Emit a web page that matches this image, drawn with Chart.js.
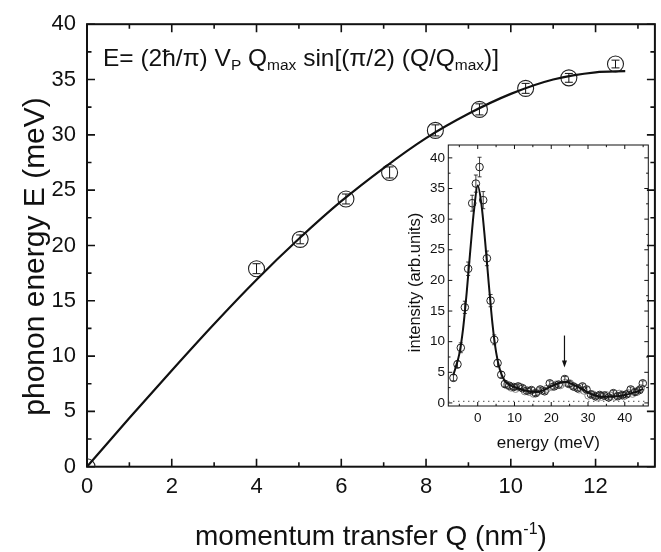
<!DOCTYPE html>
<html><head><meta charset="utf-8">
<script src="https://cdn.jsdelivr.net/npm/chart.js@4.4.0/dist/chart.umd.min.js"></script>
<style>
html,body{margin:0;padding:0;background:#fff;overflow:hidden;width:661px;height:552px;}
#wrap{position:relative;width:661px;height:552px;overflow:hidden;}
#main{position:absolute;left:0;top:0;}
#inset{position:absolute;left:380px;top:130px;}
</style></head><body>
<div id="wrap">
<canvas id="main" width="664" height="552"></canvas>
<canvas id="inset" width="281" height="330"></canvas>
</div>
<script>
// ---------- main chart data ----------
const Q_POINTS = [0, 4.0, 5.03, 6.11, 7.14, 8.22, 9.26, 10.35, 11.37, 12.47];
const E_POINTS = [0, 17.9, 20.55, 24.2, 26.6, 30.4, 32.3, 34.2, 35.15, 36.4];
const E_ERRORS = [0, 0.45, 0.4, 0.45, 0.5, 0.5, 0.5, 0.45, 0.4, 0.35];
const Q_FIT = [0, 1, 2, 3, 4, 5, 6, 7, 8, 9, 10, 11, 12, 12.7];
const E_FIT = [0, 4.4, 8.7, 12.9, 16.9, 20.6, 24.0, 27.0, 29.7, 31.9, 33.7, 35.0, 35.65, 35.75];
const Q_TICKS = [0, 2, 4, 6, 8, 10, 12];
const E_TICKS = [0, 5, 10, 15, 20, 25, 30, 35, 40];

// ---------- inset data ----------
const IN_E = [-6.6,-5.5,-4.6,-3.5,-2.6,-1.5,-0.5,0.5,1.5,2.5,3.5,4.5,5.4,6.4,7.4,8.6,9.8,11.0,12.2,13.4,14.6,15.8,17.0,18.2,19.6,20.8,22.0,23.7,24.8,26.0,27.2,28.5,29.6,30.8,32.0,33.2,34.4,35.6,36.9,38.1,39.3,40.5,41.6,42.8,44.0,44.9];
const IN_I = [4.1,6.3,9.0,15.6,21.9,32.6,35.8,38.5,33.1,23.6,16.7,10.3,6.5,4.6,3.1,2.8,2.6,2.7,2.4,2.0,2.1,1.6,2.2,1.9,3.2,2.7,3.0,3.9,3.1,2.7,2.4,2.7,2.2,1.4,1.1,1.3,1.2,0.9,1.6,1.1,1.3,1.4,2.2,1.8,2.1,3.2];
const IN_ERR = [0.5,0.6,0.8,1.0,1.1,1.3,1.4,1.6,1.4,1.2,1.0,0.8,0.6,0.5,0.5,0.4,0.4,0.4,0.4,0.4,0.4,0.4,0.4,0.4,0.4,0.4,0.4,0.4,0.4,0.4,0.4,0.4,0.4,0.4,0.4,0.4,0.4,0.4,0.4,0.4,0.4,0.4,0.4,0.4,0.4,0.4];
const IN_E2 = [7.9,9.1,10.3,11.6,12.8,14.0,15.2,16.4,17.6,18.8,20.1,21.3,22.5,23.9,25.1,26.3,27.6,28.9,30.1,31.3,32.5,33.7,34.9,36.1,37.3,38.5,39.7,40.9,42.1,43.3,44.4];
const IN_I2 = [2.9,2.5,2.3,2.6,1.9,1.8,1.5,1.9,2.0,2.3,2.6,3.0,2.9,3.3,3.2,2.6,2.2,2.0,1.2,1.4,0.9,1.0,1.3,1.2,1.0,1.5,1.1,1.6,1.5,1.8,2.4];
const FIT_E = [-6.6,-6,-5,-4,-3,-2,-1,0,1,2,3,4,5,6,7,8,10,12,14,16,18,20,22,24,26,28,30,32,34,36,38,40,42,44,45];
const FIT_I = [4.6,5.8,8.0,12.0,18.0,25.0,31.5,35.5,32.5,26.5,19.5,13.0,8.3,5.5,4.0,3.2,2.6,2.2,1.9,1.8,2.1,2.7,3.2,3.4,3.0,2.4,1.7,1.2,1.0,1.0,1.1,1.3,1.6,2.0,2.3];
const BASE_E = [-8, 46.4];
const BASE_I = [0.25, 0.25];
const ARROW_E = 23.6, ARROW_FROM = 11.0, ARROW_TO = 5.8;
const IN_X_TICKS = [0, 10, 20, 30, 40];
const IN_Y_TICKS = [0, 5, 10, 15, 20, 25, 30, 35, 40];

const FF = "'Liberation Sans', Arial, sans-serif";
Chart.defaults.font.family = FF;
Chart.defaults.color = '#111';

const pts = (xs, ys) => xs.map((x, i) => ({x, y: ys[i]}));

function drawRich(ctx, segs, x, y, align) {
  let w = 0;
  segs.forEach(s => { ctx.font = s.size + 'px ' + FF; w += ctx.measureText(s.t).width; });
  let cx = align === 'center' ? x - w / 2 : x;
  segs.forEach(s => {
    ctx.font = s.size + 'px ' + FF;
    ctx.fillText(s.t, cx, y + (s.dy || 0));
    cx += ctx.measureText(s.t).width;
  });
}

const frameTicks = {
  id: 'frameTicks',
  beforeDatasetsDraw(chart, args, o) {
    const {ctx, chartArea: a, scales: {x, y}} = chart;
    ctx.save();
    ctx.strokeStyle = '#111';
    ctx.lineWidth = o.frameWidth;
    ctx.strokeRect(a.left, a.top, a.right - a.left, a.bottom - a.top);
    ctx.lineWidth = o.tickWidth;
    ctx.beginPath();
    const eps = 1e-6;
    for (let v = Math.ceil(x.min / o.xMinor) * o.xMinor; v <= x.max + eps; v += o.xMinor) {
      const major = Math.abs(v / o.xMajor - Math.round(v / o.xMajor)) < 1e-6;
      const L = major ? o.majorLen : o.minorLen;
      const p = x.getPixelForValue(v);
      ctx.moveTo(p, a.bottom); ctx.lineTo(p, a.bottom - L);
      ctx.moveTo(p, a.top); ctx.lineTo(p, a.top + L);
    }
    for (let v = Math.ceil(y.min / o.yMinor) * o.yMinor; v <= y.max + eps; v += o.yMinor) {
      const major = Math.abs(v / o.yMajor - Math.round(v / o.yMajor)) < 1e-6;
      const L = major ? o.majorLen : o.minorLen;
      const p = y.getPixelForValue(v);
      ctx.moveTo(a.left, p); ctx.lineTo(a.left + L, p);
      ctx.moveTo(a.right, p); ctx.lineTo(a.right - L, p);
    }
    ctx.stroke();
    ctx.restore();
  }
};

const errorBars = {
  id: 'errorBars',
  afterDatasetsDraw(chart, args, o) {
    const {ctx, scales: {x, y}} = chart;
    ctx.save();
    chart.data.datasets.forEach(ds => {
      if (!ds.errors) return;
      ctx.strokeStyle = ds.errColor || '#111';
      ctx.lineWidth = ds.errWidth || 1;
      ctx.beginPath();
      ds.data.forEach((d, i) => {
        const e = ds.errors[i];
        if (!e) return;
        const px = x.getPixelForValue(d.x);
        const y1 = y.getPixelForValue(d.y + e), y2 = y.getPixelForValue(d.y - e);
        const c = ds.capHalf;
        ctx.moveTo(px, y1); ctx.lineTo(px, y2);
        ctx.moveTo(px - c, y1); ctx.lineTo(px + c, y1);
        ctx.moveTo(px - c, y2); ctx.lineTo(px + c, y2);
      });
      ctx.stroke();
    });
    ctx.restore();
  }
};

const texts = {
  id: 'texts',
  afterDraw(chart, args, o) {
    const {ctx, chartArea: a} = chart;
    ctx.save();
    ctx.fillStyle = '#111';
    ctx.textBaseline = 'alphabetic';
    (o.items || []).forEach(it => {
      ctx.save();
      const px = it.fx(a), py = it.fy(a);
      ctx.translate(px, py);
      if (it.rot) ctx.rotate(it.rot);
      drawRich(ctx, it.segs, 0, 0, it.align);
      ctx.restore();
    });
    if (o.arrow) {
      const {x, y} = chart.scales;
      const ax = x.getPixelForValue(o.arrow.e);
      const y1 = y.getPixelForValue(o.arrow.from), y2 = y.getPixelForValue(o.arrow.to);
      ctx.strokeStyle = '#111'; ctx.lineWidth = 1.2;
      ctx.beginPath(); ctx.moveTo(ax, y1); ctx.lineTo(ax, y2 - 5); ctx.stroke();
      ctx.beginPath(); ctx.moveTo(ax, y2); ctx.lineTo(ax - 2.5, y2 - 7); ctx.lineTo(ax + 2.5, y2 - 7); ctx.closePath(); ctx.fill();
    }
    ctx.restore();
  }
};

// ---------- main chart ----------
new Chart(document.getElementById('main'), {
  type: 'scatter',
  data: {
    datasets: [
      { data: pts(Q_FIT, E_FIT), showLine: true, borderColor: '#111', borderWidth: 2.2,
        pointRadius: 0, cubicInterpolationMode: 'monotone', fill: false },
      { data: pts(Q_POINTS, E_POINTS), pointRadius: 8, pointBorderWidth: 1.1,
        pointBorderColor: '#222', pointBackgroundColor: 'rgba(0,0,0,0)',
        errors: E_ERRORS, capHalf: 4, errWidth: 1 }
    ]
  },
  options: {
    responsive: false, animation: false, devicePixelRatio: 1, events: [],
    layout: { padding: { left: 0, top: 20.7, right: 2, bottom: 0 } },
    plugins: {
      legend: { display: false }, tooltip: { enabled: false },
      frameTicks: { frameWidth: 2, tickWidth: 1.6, majorLen: 8, minorLen: 4.5, xMajor: 2, xMinor: 1, yMajor: 5, yMinor: 2.5 },
      texts: { items: [
        { fx: a => a.left + 16, fy: a => a.top + 41.5, align: 'left', segs: [
          {t: 'E= (2ħ/π) V', size: 24.5}, {t: 'P', size: 15.5, dy: 4.7}, {t: ' Q', size: 24.5},
          {t: 'max', size: 15.5, dy: 4.7}, {t: ' sin[(π/2) (Q/Q', size: 24.5}, {t: 'max', size: 15.5, dy: 4.7},
          {t: ')]', size: 24.5}] },
        { fx: a => (a.left + a.right) / 2, fy: a => a.bottom + 78, align: 'center', segs: [
          {t: 'momentum transfer Q (nm', size: 28}, {t: '-1', size: 16, dy: -11}, {t: ')', size: 28}] },
        { fx: a => a.left - 43, fy: a => (a.top + a.bottom) / 2 + 11, rot: -Math.PI / 2, align: 'center', segs: [
          {t: 'phonon energy E (meV)', size: 30}] }
      ] }
    },
    scales: {
      x: { type: 'linear', min: 0, max: 13.4,
        afterFit: s => { s.height = 85.3; },
        afterBuildTicks: s => { s.ticks = Q_TICKS.map(v => ({value: v})); },
        grid: { display: false, drawTicks: false }, border: { display: false },
        ticks: { font: { size: 22 }, color: '#111', padding: 7, maxRotation: 0 } },
      y: { type: 'linear', min: 0, max: 40,
        afterFit: s => { s.width = 87; },
        afterBuildTicks: s => { s.ticks = E_TICKS.map(v => ({value: v})); },
        grid: { display: false, drawTicks: false }, border: { display: false },
        ticks: { font: { size: 22 }, color: '#111', padding: 11 } }
    }
  },
  plugins: [frameTicks, errorBars, texts]
});

// ---------- inset ----------
new Chart(document.getElementById('inset'), {
  type: 'scatter',
  data: {
    datasets: [
      { data: pts(FIT_E, FIT_I), showLine: true, borderColor: '#111', borderWidth: 2,
        pointRadius: 0, cubicInterpolationMode: 'monotone', fill: false },
      { data: pts(IN_E, IN_I), pointRadius: 3.8, pointBorderWidth: 1,
        pointBorderColor: '#222', pointBackgroundColor: 'rgba(0,0,0,0)',
        errors: IN_ERR, capHalf: 2, errWidth: 0.8 },
      { data: pts(IN_E2, IN_I2), pointRadius: 3.6, pointBorderWidth: 1,
        pointBorderColor: '#8a8a8a', pointBackgroundColor: 'rgba(0,0,0,0)' },
      { data: pts(BASE_E, BASE_I), showLine: true, borderColor: '#333', borderWidth: 1.2,
        borderDash: [1, 4], pointRadius: 0 }
    ]
  },
  options: {
    responsive: false, animation: false, devicePixelRatio: 1, events: [],
    layout: { padding: { left: 0, top: 15, right: 12.7, bottom: 0 } },
    plugins: {
      legend: { display: false }, tooltip: { enabled: false },
      frameTicks: { frameWidth: 1, tickWidth: 1, majorLen: 4, minorLen: 2.2, xMajor: 10, xMinor: 5, yMajor: 5, yMinor: 2.5 },
      texts: { items: [
        { fx: a => (a.left + a.right) / 2, fy: a => a.bottom + 42, align: 'center', segs: [
          {t: 'energy (meV)', size: 17}] },
        { fx: a => a.left - 28.3, fy: a => (a.top + a.bottom) / 2 + 7, rot: -Math.PI / 2, align: 'center', segs: [
          {t: 'intensity (arb.units)', size: 16.5}] }
      ], arrow: { e: ARROW_E, from: ARROW_FROM, to: ARROW_TO } }
    },
    scales: {
      x: { type: 'linear', min: -8, max: 46.4,
        afterFit: s => { s.height = 54; },
        afterBuildTicks: s => { s.ticks = IN_X_TICKS.map(v => ({value: v})); },
        grid: { display: false, drawTicks: false }, border: { display: false },
        ticks: { font: { size: 13.5 }, color: '#111', padding: 4, maxRotation: 0 } },
      y: { type: 'linear', min: -0.5, max: 42.1,
        afterFit: s => { s.width = 68.3; },
        afterBuildTicks: s => { s.ticks = IN_Y_TICKS.map(v => ({value: v})); },
        grid: { display: false, drawTicks: false }, border: { display: false },
        ticks: { font: { size: 13.5 }, color: '#111', padding: 3.3 } }
    }
  },
  plugins: [frameTicks, errorBars, texts]
});
</script>
</body></html>
